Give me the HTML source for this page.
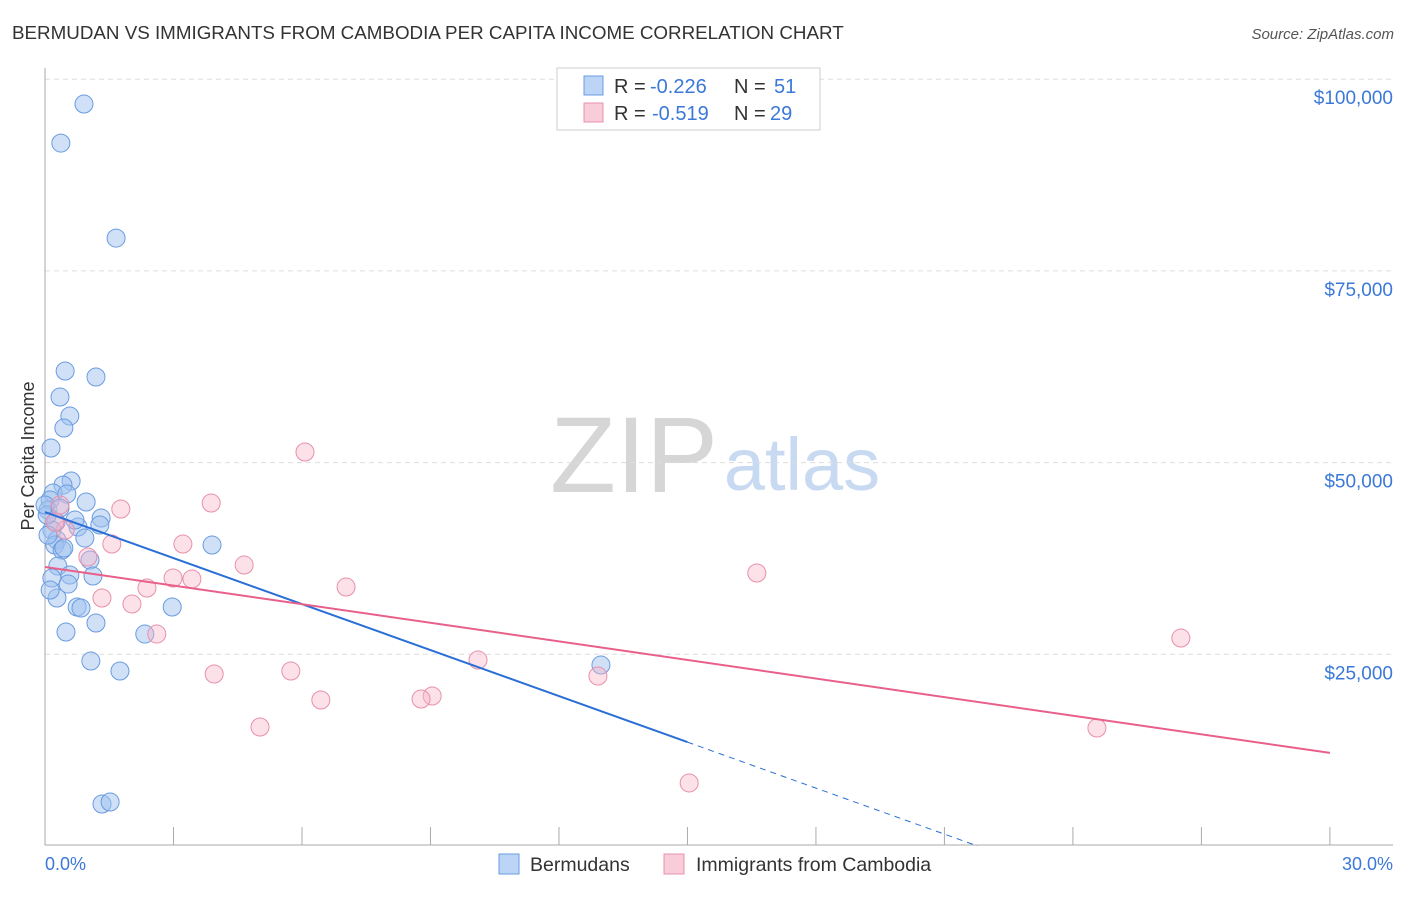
<!DOCTYPE html>
<html><head><meta charset="utf-8"><style>
body{margin:0;background:#fff;font-family:"Liberation Sans",sans-serif;}
svg text{font-family:"Liberation Sans",sans-serif;}
</style></head><body>
<svg id="c" width="1406" height="892" xmlns="http://www.w3.org/2000/svg">
<text x="12" y="39" font-size="18.8" fill="#333">BERMUDAN VS IMMIGRANTS FROM CAMBODIA PER CAPITA INCOME CORRELATION CHART</text>
<text x="1394" y="39" font-size="15" fill="#555" font-style="italic" text-anchor="end">Source: ZipAtlas.com</text>
<text x="634" y="492" font-size="108" fill="#d6d6d6" font-family="Liberation Serif" text-anchor="middle">ZIP</text>
<text x="802" y="490" font-size="74" fill="#c8daf2" text-anchor="middle">atlas</text>
<g id="grid"></g><g id="axes"></g><g id="pts"></g><g id="trend"></g>
<text transform="translate(34,456) rotate(-90)" font-size="18" fill="#333" text-anchor="middle">Per Capita Income</text>
<text x="45" y="870" font-size="18" fill="#3b78d8">0.0%</text>
<text x="1393" y="870" font-size="18" fill="#3b78d8" text-anchor="end">30.0%</text>
<g>
<rect x="557" y="68" width="263" height="62" fill="#fff" stroke="#ccc"/>
<rect x="584" y="76" width="19" height="19" fill="#bcd4f5" stroke="#6a9be0"/>
<text x="614" y="93" font-size="20" fill="#333">R =</text>
<text x="650" y="93" font-size="20" fill="#3b78d8">-0.226</text>
<text x="734" y="93" font-size="20" fill="#333">N =</text>
<text x="774" y="93" font-size="20" fill="#3b78d8">51</text>
<rect x="584" y="103" width="19" height="19" fill="#f9ccd9" stroke="#e890aa"/>
<text x="614" y="120" font-size="20" fill="#333">R =</text>
<text x="652" y="120" font-size="20" fill="#3b78d8">-0.519</text>
<text x="734" y="120" font-size="20" fill="#333">N =</text>
<text x="770" y="120" font-size="20" fill="#3b78d8">29</text>
</g>
<g>
<rect x="499" y="854" width="20" height="20" fill="#bcd4f5" stroke="#6a9be0"/>
<text x="530" y="871" font-size="19.5" fill="#333">Bermudans</text>
<rect x="664" y="854" width="20" height="20" fill="#f9ccd9" stroke="#e890aa"/>
<text x="696" y="871" font-size="19.5" fill="#333">Immigrants from Cambodia</text>
</g>
</svg>
<script>
const yTicks=[25000,50000,75000,100000];
const yTickLabels=["$25,000","$50,000","$75,000","$100,000"];
const xTicks=[0,3,6,9,12,15,18,21,24,27,30];
const blueX=[0.91,0.37,1.66,0.47,1.19,0.35,0.58,0.44,0.14,0.61,0.42,0.19,0.51,0.96,0.12,0.07,0.26,1.31,1.28,0.77,0.16,0.93,0.28,3.90,0.23,0.40,1.05,0.30,0.58,1.12,0.16,0.54,0.28,0.75,0.84,2.97,1.19,0.49,2.33,1.07,1.75,12.98,1.33,1.52,0.05,0.0,0.07,0.35,0.70,0.12,0.44];
const blueY=[96760,91670,79280,61940,61160,58550,56070,54510,51900,47600,47070,46030,45900,44860,45120,43810,42250,42770,41860,41600,41210,40160,39900,39250,39250,38600,37290,36510,35340,35210,34950,34160,32340,31170,31040,31170,29080,27910,27640,24120,22820,23600,5480,5740,43160,44470,40550,44080,42510,33380,38860];
const pinkX=[6.07,3.88,1.77,0.35,1.56,3.22,0.47,1.00,4.65,2.99,3.43,2.38,7.03,1.33,2.03,16.62,2.61,26.52,10.11,5.74,3.95,12.91,9.04,8.78,6.44,5.02,24.56,15.04,0.23];
const pinkY=[51380,44730,43950,44470,39380,39380,41210,37690,36640,34950,34820,33640,33770,32340,31560,35600,27640,27120,24250,22820,22430,22170,19560,19170,19040,15520,15390,8220,42250];
const blueTrend=[43550,-2000];
const pinkTrend=[36380,-808];
const NS="http://www.w3.org/2000/svg";
const xs=v=>45+v*42.83, ys=v=>846-v*0.007668;
function mk(t,a,p){const e=document.createElementNS(NS,t);for(const k in a)e.setAttribute(k,a[k]);document.getElementById(p).appendChild(e);return e;}
yTicks.forEach((t,i)=>{
 const g=mk('line',{x1:45,x2:1393,y1:ys(t),y2:ys(t),stroke:'#ddd','stroke-dasharray':'5,4'},'grid');
 
 
 const l=mk('text',{x:1393,y:ys(t)+25,'font-size':19,fill:'#3b78d8','text-anchor':'end'},'grid');l.textContent=yTickLabels[i];
 
 
});
const ya=mk('line',{x1:45,x2:45,y1:68,y2:845,stroke:'#aaa'},'axes');


const xa=mk('line',{x1:45,x2:1393,y1:845,y2:845,stroke:'#aaa'},'axes');


xTicks.forEach(t=>{const k=mk('line',{x1:xs(t),x2:xs(t),y1:827,y2:845,stroke:'#aaa'},'axes');
 
 });
blueX.forEach((x,i)=>{const c=mk('circle',{cx:xs(x),cy:ys(blueY[i]),r:9,fill:'rgba(160,194,240,0.5)',stroke:'#6a9be0','stroke-width':1},'pts');
 
 });
pinkX.forEach((x,i)=>{const c=mk('circle',{cx:xs(x),cy:ys(pinkY[i]),r:9,fill:'rgba(248,180,200,0.4)',stroke:'#e890aa','stroke-width':1},'pts');
 
 });
const bf=x=>blueTrend[0]+blueTrend[1]*x, pf=x=>pinkTrend[0]+pinkTrend[1]*x;
const b1=mk('line',{x1:xs(0),y1:ys(bf(0)),x2:xs(15),y2:ys(bf(15)),stroke:'#2a6fd6','stroke-width':2},'trend');


const xEnd=-blueTrend[0]/blueTrend[1];
const b2=mk('line',{x1:xs(15),y1:ys(bf(15)),x2:xs(xEnd),y2:ys(0),stroke:'#2a6fd6','stroke-width':1,'stroke-dasharray':'6,5'},'trend');


const p1=mk('line',{x1:xs(0),y1:ys(pf(0)),x2:xs(30),y2:ys(pf(30)),stroke:'#e8608a','stroke-width':2},'trend');


</script>
</body></html>
